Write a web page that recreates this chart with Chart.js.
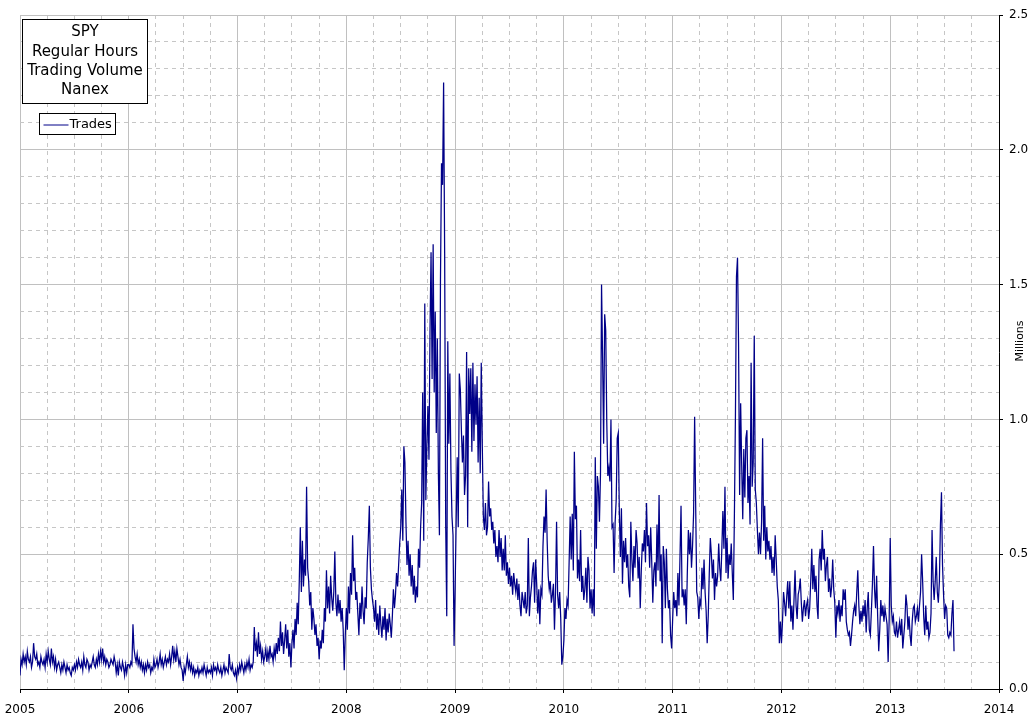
<!DOCTYPE html>
<html><head><meta charset="utf-8">
<script src="https://cdn.jsdelivr.net/npm/chart.js@4"></script>
<style>html,body{margin:0;padding:0;background:#fff;overflow:hidden}</style>
</head><body>
<canvas id="c" width="1030" height="724"></canvas>
<script>
const titleLines = ["SPY", "Regular Hours", "Trading Volume", "Nanex"];
const seriesName = "Trades";
const yAxisTitle = "Millions";
const years = [2005, 2006, 2007, 2008, 2009, 2010, 2011, 2012, 2013];
const pointsPerYear = 104;

const v2005 = [.05,.11,.09,.13,.10,.12,.09,.14,.11,.10,.12,.08,.10,.17,.12,.11,.13,.09,.10,.08,.12,.10,.09,.11,.08,.13,
.10,.14,.11,.09,.15,.10,.12,.08,.11,.07,.09,.10,.08,.06,.09,.07,.10,.08,.06,.09,.07,.08,.06,.05,.08,.07,
.09,.07,.10,.08,.11,.09,.08,.10,.07,.12,.09,.08,.11,.10,.07,.09,.08,.10,.12,.09,.08,.11,.09,.13,.10,.14,
.11,.15,.10,.12,.09,.11,.10,.08,.09,.11,.10,.09,.12,.10,.06,.09,.05,.10,.08,.07,.10,.08,.05,.09,.06,.09];
const v2006 = [.09,.08,.10,.09,.24,.15,.12,.10,.13,.09,.11,.08,.10,.07,.09,.06,.09,.07,.10,.08,.09,.06,.08,.07,.11,.08,
.09,.11,.08,.10,.13,.09,.11,.08,.10,.12,.09,.11,.10,.13,.09,.12,.16,.11,.14,.10,.15,.12,.09,.11,.08,.07,
.03,.08,.06,.09,.12,.08,.10,.07,.09,.06,.08,.05,.07,.06,.08,.05,.07,.06,.08,.06,.09,.07,.05,.08,.06,.07,
.06,.08,.05,.09,.07,.08,.06,.09,.07,.06,.08,.05,.07,.09,.06,.08,.07,.06,.13,.08,.07,.09,.06,.05,.07,.04];
const v2007 = [.08,.06,.09,.07,.10,.08,.06,.09,.07,.10,.08,.11,.07,.09,.08,.10,.23,.14,.17,.12,.21,.13,.16,.11,.14,.10,
.12,.15,.10,.14,.11,.16,.12,.13,.10,.15,.12,.17,.13,.19,.14,.25,.16,.21,.13,.18,.24,.15,.22,.12,.17,.08,
.17,.22,.15,.26,.20,.32,.24,.40,.60,.36,.55,.38,.48,.42,.75,.45,.40,.31,.36,.22,.30,.26,.20,.24,.16,.19,
.11,.18,.15,.22,.17,.30,.25,.44,.30,.38,.28,.42,.34,.29,.36,.51,.32,.27,.35,.28,.33,.25,.30,.22,.07,.20];
const v2008 = [.30,.22,.38,.28,.43,.35,.57,.40,.45,.33,.36,.28,.20,.32,.26,.38,.29,.24,.34,.30,.47,.56,.68,.45,.37,.33,
.30,.25,.33,.22,.28,.20,.31,.24,.19,.27,.22,.30,.18,.26,.21,.28,.24,.19,.27,.37,.30,.35,.43,.38,.46,.54,
.60,.74,.55,.90,.84,.62,.46,.55,.42,.50,.38,.46,.35,.42,.32,.38,.34,.52,.45,.60,.69,1.10,.55,1.43,.70,.90,
1.05,.85,1.33,1.62,1.15,1.65,1.10,1.40,.95,1.30,.80,.57,1.52,1.95,1.87,2.25,1.62,.61,.27,1.29,.91,1.17,.81,.64,.57,.16];
const v2009 = [.37,.62,.86,.60,1.17,1.11,.96,.84,.94,.72,.79,1.25,.60,1.19,1.02,1.19,.88,1.21,.92,1.13,.98,1.16,.84,1.08,.80,1.21,
.90,.64,.59,.69,.57,.60,.77,.64,.67,.59,.62,.54,.59,.49,.53,.47,.59,.49,.56,.44,.52,.44,.57,.42,.47,.39,
.45,.38,.42,.35,.43,.39,.36,.41,.33,.39,.31,.27,.36,.33,.30,.36,.28,.31,.56,.27,.34,.38,.44,.47,.32,.48,
.39,.28,.37,.24,.37,.35,.53,.64,.58,.74,.55,.42,.37,.40,.32,.35,.39,.22,.36,.62,.35,.30,.36,.26,.09,.12];
const v2010 = [.18,.30,.26,.33,.31,.47,.64,.48,.65,.44,.88,.63,.68,.41,.48,.40,.59,.36,.42,.33,.37,.45,.32,.49,.44,.30,
.37,.28,.37,.27,.86,.52,.79,.75,.62,.80,1.50,1.23,.91,1.39,1.33,.99,.79,.82,.77,1.00,.60,.61,.43,.62,.70,.93,
.95,.66,.49,.67,.39,.55,.47,.56,.45,.50,.38,.34,.62,.48,.40,.53,.45,.59,.54,.41,.49,.30,.44,.54,.51,.59,
.47,.69,.53,.57,.45,.60,.47,.32,.44,.47,.38,.61,.44,.72,.40,.50,.17,.53,.47,.30,.52,.37,.30,.33,.20,.15];
const v2011 = [.26,.36,.30,.33,.27,.43,.31,.49,.68,.34,.37,.31,.37,.24,.43,.59,.50,.58,.45,.53,.65,1.01,.68,.36,.34,.26,
.33,.31,.45,.37,.48,.36,.29,.17,.27,.43,.56,.50,.41,.48,.33,.43,.38,.42,.54,.45,.40,.52,.66,.52,.75,.43,
.56,.41,.50,.46,.54,.43,.33,.64,1.01,1.53,1.60,1.28,.72,1.06,.83,.63,.89,.71,.93,.96,.69,.79,.61,1.21,.75,.84,
1.31,.74,.69,.59,.50,.58,.50,.62,.93,.55,.68,.48,.60,.51,.55,.48,.53,.43,.49,.42,.57,.48,.38,.33,.17,.25];
const v2012 = [.17,.25,.36,.32,.27,.34,.40,.30,.40,.25,.31,.22,.33,.44,.31,.26,.35,.37,.41,.32,.25,.30,.33,.27,.31,.33,
.26,.30,.40,.52,.37,.46,.36,.42,.31,.26,.48,.52,.44,.59,.48,.52,.40,.46,.49,.36,.41,.34,.38,.48,.37,.32,
.19,.31,.28,.33,.25,.31,.27,.37,.33,.37,.25,.22,.20,.21,.16,.20,.25,.29,.31,.27,.36,.44,.31,.24,.29,.25,
.31,.27,.33,.21,.30,.36,.22,.20,.29,.39,.53,.37,.30,.42,.27,.14,.22,.33,.27,.31,.25,.30,.27,.24,.10,.26];
const v2013 = [.56,.31,.25,.27,.21,.20,.25,.19,.22,.25,.20,.26,.15,.20,.25,.35,.31,.22,.27,.20,.16,.25,.30,.31,.25,.27,
.30,.25,.31,.36,.50,.40,.27,.20,.31,.22,.25,.19,.21,.28,.59,.40,.33,.40,.49,.36,.32,.40,.61,.73,.46,.35,
.26,.31,.30,.20,.19,.21,.20,.28,.33,.14];

const yearValues = [v2005, v2006, v2007, v2008, v2009, v2010, v2011, v2012, v2013];
const points = [];
years.forEach((yr, k) => {
  yearValues[k].forEach((v, i) => points.push({ x: yr + i / pointsPerYear, y: v }));
});

const FONT = '"DejaVu Sans", "Lucida Sans", sans-serif';
const MAJOR = '#c0c0c0', MINOR = '#c6c6c6';
const isYear = v => Math.abs(v - Math.round(v)) < 1e-6;
const isHalf = v => Math.abs(v * 2 - Math.round(v * 2)) < 1e-6;

const boxPlugin = {
  id: 'boxes',
  afterDraw(chart) {
    const { ctx, chartArea: a } = chart;
    ctx.save();
    // title box
    const bx = a.left + 2.5, by = a.top + 4.5, bw = 125, bh = 84;
    ctx.fillStyle = '#fff'; ctx.fillRect(bx, by, bw, bh);
    ctx.strokeStyle = '#000'; ctx.lineWidth = 1; ctx.strokeRect(bx, by, bw, bh);
    ctx.fillStyle = '#000'; ctx.font = '15px ' + FONT;
    ctx.textAlign = 'center'; ctx.textBaseline = 'middle';
    titleLines.forEach((t, i) => ctx.fillText(t, bx + bw / 2, by + 13 + i * 19.3));
    // legend box
    const lx = a.left + 19.5, ly = a.top + 98.5, lw = 76, lh = 21;
    ctx.fillStyle = '#fff'; ctx.fillRect(lx, ly, lw, lh);
    ctx.strokeRect(lx, ly, lw, lh);
    const ds = chart.data.datasets[0];
    ctx.strokeStyle = ds.borderColor; ctx.beginPath();
    ctx.moveTo(lx + 4, ly + 11.5); ctx.lineTo(lx + 29, ly + 11.5); ctx.stroke();
    ctx.fillStyle = '#000'; ctx.font = '13px ' + FONT; ctx.textAlign = 'left';
    ctx.fillText(ds.label, lx + 30, ly + 11);
    // right axis title
    const ys = chart.scales.y;
    ctx.translate(ys.right - 10, (a.top + a.bottom) / 2 - 11);
    ctx.rotate(-Math.PI / 2);
    ctx.textAlign = 'center'; ctx.font = '11px ' + FONT;
    ctx.fillText(yAxisTitle, 0, 0);
    ctx.restore();
  }
};

new Chart(document.getElementById('c'), {
  type: 'line',
  data: { datasets: [{ label: seriesName, data: points, borderColor: '#000088', borderWidth: 1.25,
    pointRadius: 0, tension: 0, fill: false }] },
  options: {
    responsive: false, animation: false, devicePixelRatio: 1,
    layout: { padding: { left: 20, top: 15, right: 0, bottom: 0 } },
    plugins: { legend: { display: false }, tooltip: { enabled: false } },
    scales: {
      x: {
        type: 'linear', min: 2005, max: 2014,
        afterFit(s) { s.height = 35; s.paddingLeft = 0; s.paddingRight = 0; },
        ticks: { stepSize: 0.25, autoSkip: false, maxRotation: 0, padding: 10, color: '#000',
          font: { family: FONT, size: 12 },
          callback: v => isYear(v) ? String(Math.round(v)) : '' },
        grid: { color: c => (c.tick && isYear(c.tick.value)) ? MAJOR : MINOR, lineWidth: 1,
          tickLength: 4, tickColor: c => (c.tick && isYear(c.tick.value)) ? '#000' : 'rgba(0,0,0,0)' },
        border: { color: '#000', width: 1,
          dash: c => (c.tick && !isYear(c.tick.value)) ? [4, 4] : [] }
      },
      y: {
        position: 'right', min: 0, max: 2.5,
        afterFit(s) { s.width = 31; s.paddingTop = 0; s.paddingBottom = 0; },
        ticks: { stepSize: 0.1, autoSkip: false, padding: 6, color: '#000',
          font: { family: FONT, size: 12 },
          callback: v => isHalf(v) ? Number(v).toFixed(1) : '' },
        grid: { color: c => (c.tick && isHalf(c.tick.value)) ? MAJOR : MINOR, lineWidth: 1,
          tickLength: 4, tickColor: c => (c.tick && isHalf(c.tick.value)) ? '#000' : 'rgba(0,0,0,0)' },
        border: { color: '#000', width: 1,
          dash: c => (c.tick && !isHalf(c.tick.value)) ? [4, 4] : [] }
      }
    }
  },
  plugins: [boxPlugin]
});
</script>
</body></html>
